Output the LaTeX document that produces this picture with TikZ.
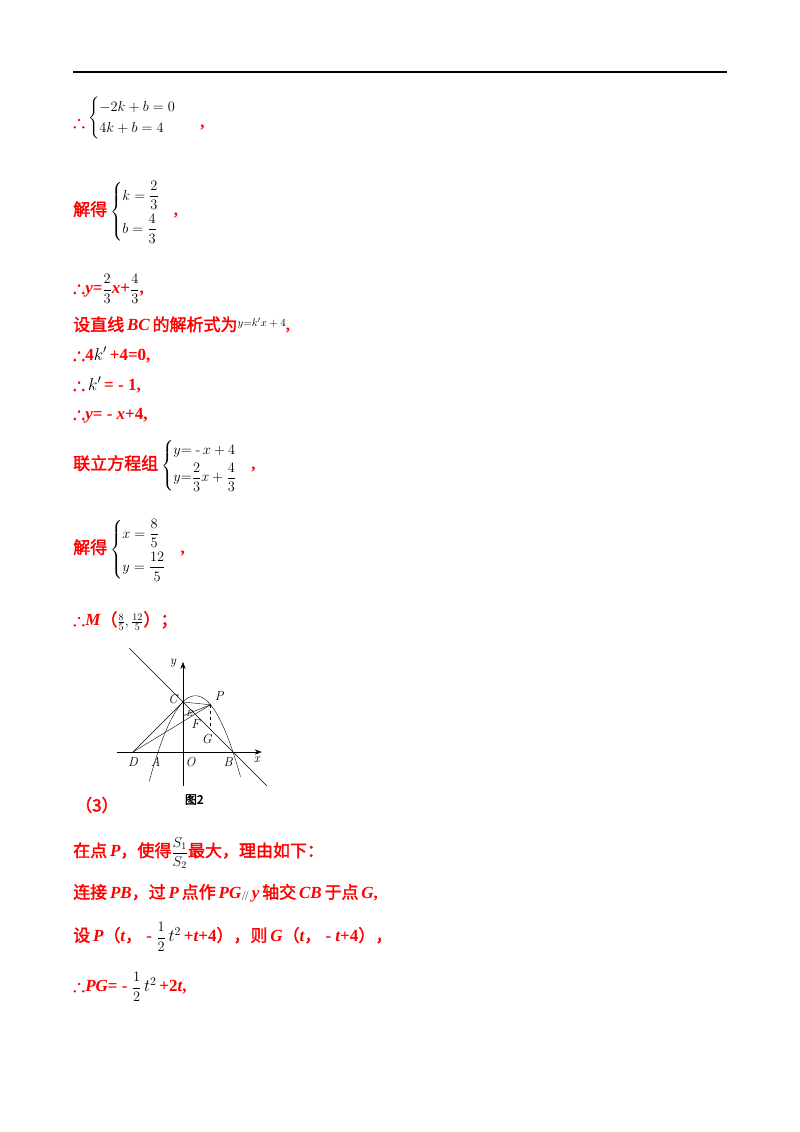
\documentclass[tikz,border=0pt]{standalone}
\usepackage{fontspec}
\usepackage{amsmath,amssymb,bm}
\usetikzlibrary{arrows.meta}
\newfontfamily\cjk[FakeBold=2]{Noto Sans CJK SC}
\newfontfamily\lsb{Liberation Serif}
\newcommand{\R}[1]{{\color{red}\cjk #1}}
\newcommand{\RL}[1]{{\color{red}\lsb\bfseries\itshape #1}}
\newcommand{\RN}[1]{{\color{red}\lsb\bfseries #1}}
\newcommand{\TF}{{\color{red}$\bm{\therefore}$}}
\tikzset{line/.style={anchor=west,inner sep=0pt,font=\fontsize{17}{20}\selectfont},
 lab/.style={inner sep=1pt,font=\fontsize{13}{14}\selectfont\itshape}}
\newcommand{\M}{\fontsize{14}{17}\selectfont}
\begin{document}
\begin{tikzpicture}[x=1pt,y=-1pt]
\useasboundingbox (0,0) rectangle (800,1132);
\draw[line width=1.5pt] (73,72) -- (727,72);
\node[line] (l1) at (73,118) {\raisebox{-6pt}{\TF}\,{\M$\begin{cases}-2k+b=0\\4k+b=4\end{cases}$}\ \ \raisebox{-6pt}{\RN{,}}};
\node[line] (l2) at (73,212) {\R{解得}\,{\M$\begin{cases}k=\dfrac{2}{3}\\[8pt] b=\dfrac{4}{3}\end{cases}$}\RN{,}};
\node[line] (l3) at (73,289) {\TF\RL{y}\RN{=}{\M$\dfrac{2}{3}$}\RL{x}\RN{+}{\M$\dfrac{4}{3}$}\RN{,}};
\node[line] (l4) at (73,325) {\R{设直线}\,\RL{BC}\,\R{的解析式为}{\fontsize{11}{12}\selectfont\raisebox{4pt}{$y{=}k'x+4$}}\RN{,}};
\node[line] (l5) at (73,355) {\TF\RN{4}$k'$\RN{\,+4=0,}};
\node[line] (l6) at (73,385) {\TF\,$k'$\RN{\,= - 1,}};
\node[line] (l7) at (73,415) {\TF\RL{y}\RN{= - }\RL{x}\RN{+4,}};
\node[line] (l8) at (73,466) {\R{联立方程组}\,{\M$\begin{cases}y{=}\;\text{-}\,x+4\\[2pt] y{=}\dfrac{2}{3}x+\dfrac{4}{3}\end{cases}$}\RN{,}};
\node[line] (l9) at (73,550) {\R{解得}\,{\M$\begin{cases}x=\dfrac{8}{5}\\[8pt] y=\dfrac{12}{5}\end{cases}$}\RN{,}};
\node[line] (l10) at (73,621) {\TF\RL{M}\R{（}{\M$\frac{8}{5},\frac{12}{5}$}\R{）；}};
\node[line] (l11) at (75,805) {\R{（3）}};
\node[line] (l12) at (73,853) {\R{在点}\,\RL{P}\R{，使得}{\M$\dfrac{S_1}{S_2}$}\R{最大，理由如下：}};
\node[line] (l13) at (73,893) {\R{连接}\,\RL{PB}\R{，过}\,\RL{P}\,\R{点作}\,\RL{PG}{\small$/\!/$}\,\RL{y}\,\R{轴交}\,\RL{CB}\,\R{于点}\,\RL{G}\RN{,}};
\node[line] (l14) at (73,937) {\R{设}\,\RL{P}\R{（}\RL{t}\R{，}\RN{ - }{\M$\dfrac12$}\,$t^2$\RN{\,+}\RL{t}\RN{+4}\R{），则}\,\RL{G}\R{（}\RL{t}\R{，}\RN{ - }\RL{t}\RN{+4}\R{），}};
\node[line] (l15) at (73,987) {\TF\RL{PG}\RN{= - }{\M$\dfrac12$}\,$t^2$\RN{\,+2}\RL{t}\RN{,}};
% figure
\begin{scope}[shift={(183,752)},x={(12.5pt,0)},y={(0,12.5pt)}]
\coordinate (O) at (0,0);
\coordinate (xa) at (-5.3,0); \coordinate (xb) at (6.3,0);
\coordinate (ya) at (0,-2.7); \coordinate (yb) at (0,7.2);
\coordinate (D) at (-4,0); \coordinate (A) at (-2,0); \coordinate (B) at (4,0);
\coordinate (C) at (0,4); \coordinate (P) at (2.2,3.78); \coordinate (E) at (0,2.9);
\coordinate (G) at (2.2,1.8); \coordinate (L1) at (-4.3,8.3); \coordinate (L2) at (6.7,-2.7);
\draw[-{Stealth[length=7pt]}] (xa) -- (xb);
\draw[-{Stealth[length=7pt]}] (ya) -- (yb);
\draw (L1) -- (L2);
\draw[domain=-2.7:4.6,samples=80,smooth] plot (\x,{-0.5*\x*\x+\x+4});
\draw (D) -- (C) -- (P) -- (E);
\draw (D) -- (P);
\draw[dashed] (P) -- (G);
\node[lab] (tD) at (-4,-0.8) {D};
\node[lab] (tA) at (-2.2,-0.8) {A};
\node[lab] (tO) at (0.6,-0.8) {O};
\node[lab] (tB) at (3.6,-0.8) {B};
\node[lab] (tx) at (5.9,-0.6) {x};
\node[lab] (ty) at (-0.8,7.1) {y};
\node[lab] (tC) at (-0.8,4.2) {C};
\node[lab] (tP) at (2.9,4.5) {P};
\node[lab,font=\fontsize{9}{10}\selectfont\itshape] (tE) at (0.5,3.1) {E};
\node[lab] (tF) at (1.0,2.2) {F};
\node[lab] (tG) at (1.9,1.0) {G};
\node[inner sep=0pt,font=\fontsize{12}{13}\selectfont\cjk] (cap) at (0.9,-3.8) {图2};
\end{scope}
\end{tikzpicture}
\end{document}
